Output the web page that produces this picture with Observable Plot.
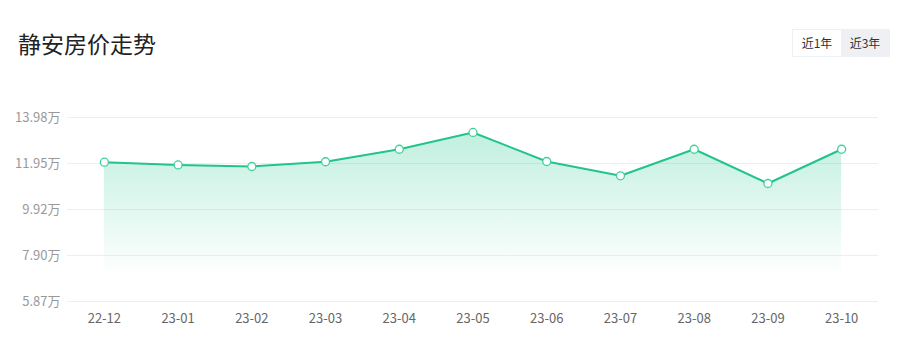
<!DOCTYPE html>
<html>
<head>
<meta charset="utf-8">
<script src="https://cdn.jsdelivr.net/npm/d3@7"></script>
<script src="https://cdn.jsdelivr.net/npm/@observablehq/plot@0.6"></script>
<style>
  body { margin: 0; background: #fff; font-family: "Noto Sans CJK SC", "Noto Sans", sans-serif; }
  #wrap { position: relative; width: 907px; height: 353px; overflow: hidden; }
  #header { position: relative; height: 80px; }
  #title { position: absolute; left: 18px; top: 27px; font-size: 23px; color: #222; line-height: 32px; }
  #tabs { position: absolute; left: 792px; top: 29px; display: flex; height: 28px; border: 1px solid #eef0f3; box-sizing: border-box; }
  #tabs div { width: 48px; font-size: 12px; color: #333; line-height: 26px; text-align: center; }
  #tabs .on { background: #eef0f3; }
  svg { display: block; }
</style>
</head>
<body>
<div id="wrap">
  <div id="header">
    <div id="title">静安房价走势</div>
    <div id="tabs"><div>近1年</div><div class="on">近3年</div></div>
  </div>
  <div id="chart"></div>
</div>
<script>
const months = ["22-12","23-01","23-02","23-03","23-04","23-05","23-06","23-07","23-08","23-09","23-10"];
const prices = [12.01, 11.89, 11.82, 12.03, 12.58, 13.32, 12.04, 11.41, 12.58, 11.07, 12.58];
const yTicks = [5.87, 7.90, 9.92, 11.95, 13.98];

const data = months.map((m, i) => ({month: m, price: prices[i]}));
const green = "#22c48b";

const chart = Plot.plot({
  width: 907,
  height: 273,
  marginTop: 37,
  marginBottom: 52,
  marginLeft: 67,
  marginRight: 29,
  style: {fontFamily: '"Noto Sans CJK SC", "Noto Sans", sans-serif', fontSize: "13px", background: "#fff"},
  x: {type: "point", domain: months, padding: 0.5, round: false, label: null},
  y: {domain: [5.87, 13.98], label: null},
  marks: [
    Plot.ruleY(yTicks, {stroke: "#eee", strokeWidth: 1}),
    Plot.axisY(yTicks, {tickSize: 0, tickPadding: 7, tickFormat: d => d.toFixed(2) + "万", fill: "#999", fontSize: 13}),
    Plot.axisX({tickSize: 0, tickPadding: 12, fill: "#666", fontSize: 13}),
    Plot.areaY(data, {x: "month", y1: 5.87, y2: "price", fill: "url(#areaGrad)"}),
    Plot.line(data, {x: "month", y: "price", stroke: green, strokeWidth: 2}),
    Plot.dot(data, {x: "month", y: "price", r: 4, fill: "#fff", stroke: "#3fd09a", strokeWidth: 1.3})
  ]
});

const svg = d3.select(chart);
const grad = svg.insert("defs", ":first-child")
  .append("linearGradient")
  .attr("id", "areaGrad")
  .attr("x1", 0).attr("y1", 0).attr("x2", 0).attr("y2", 1);
grad.append("stop").attr("offset", "0%").attr("stop-color", "#2ecb93").attr("stop-opacity", 0.3);
grad.append("stop").attr("offset", "85%").attr("stop-color", "#2ecb93").attr("stop-opacity", 0.0);

document.getElementById("chart").appendChild(chart);
</script>
</body>
</html>
